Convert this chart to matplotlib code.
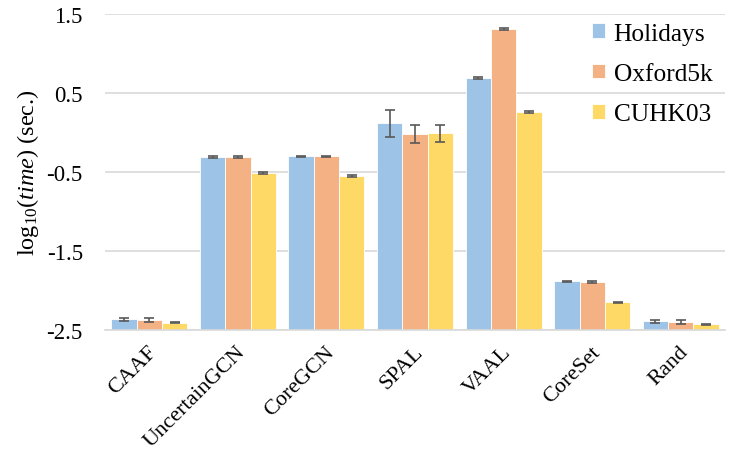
import matplotlib
matplotlib.use("Agg")
import matplotlib.pyplot as plt
from matplotlib import font_manager as fm
from matplotlib.transforms import ScaledTranslation
import numpy as np

_names = {f.name for f in fm.fontManager.ttflist}
_serif = 'Liberation Serif' if 'Liberation Serif' in _names else 'DejaVu Serif'
plt.rcParams['font.family'] = [_serif, 'DejaVu Serif']
plt.rcParams['mathtext.fontset'] = 'custom'
plt.rcParams['mathtext.rm'] = _serif
plt.rcParams['mathtext.it'] = _serif + ':italic'

categories = ["CAAF", "UncertainGCN", "CoreGCN", "SPAL", "VAAL", "CoreSet", "Rand"]
series = ["Holidays", "Oxford5k", "CUHK03"]
holidays = [-2.365, -0.31, -0.30, 0.12, 0.694, -1.88, -2.39]
oxford = [-2.377, -0.31, -0.30, -0.02, 1.31, -1.89, -2.40]
cuhk = [-2.41, -0.517, -0.55, -0.01, 0.264, -2.146, -2.425]
holidays_err = [0.023, 0.008, 0.008, 0.17, 0.01, 0.006, 0.02]
oxford_err = [0.026, 0.008, 0.008, 0.115, 0.01, 0.01, 0.022]
cuhk_err = [0.006, 0.012, 0.015, 0.11, 0.012, 0.006, 0.006]
yticks = [-2.5, -1.5, -0.5, 0.5, 1.5]
colors = ["#9DC3E6", "#F4B183", "#FFD966"]

fig = plt.figure(figsize=(7.48, 4.56), dpi=100)
ax = fig.add_axes([0.1404, 0.274, 0.829, 0.693])

x = np.arange(len(categories))
w = 0.286
base = -2.5
for i, (vals, errs) in enumerate([(holidays, holidays_err), (oxford, oxford_err), (cuhk, cuhk_err)]):
    vals = np.array(vals)
    ax.bar(x + (i - 1) * w, vals - base, w, bottom=base, color=colors[i],
           edgecolor='white', linewidth=0.6, label=series[i], zorder=2)
    ax.errorbar(x + (i - 1) * w, vals, yerr=errs, fmt='none', ecolor='#595959',
                elinewidth=1.2, capsize=3.5, capthick=1.2, zorder=3)

ax.set_ylim(-2.5, 1.5)
ax.set_xlim(-0.5, len(categories) - 0.5)
ax.set_yticks(yticks)
ax.set_yticklabels([str(t) for t in yticks], fontsize=16.5)
ax.set_xticks(x)
ax.set_xticklabels([])
lbl_trans = ax.get_xaxis_transform() + ScaledTranslation(0.05, -0.19, fig.dpi_scale_trans)
for xi, cat in zip(x, categories):
    ax.text(xi, 0, cat, transform=lbl_trans, rotation=45, ha='right', va='center',
            rotation_mode='anchor', fontsize=16, clip_on=False)
ax.tick_params(axis='y', length=0, pad=16)
ax.tick_params(axis='x', length=0)
ax.grid(axis='y', color='#d9d9d9', linewidth=1.2, zorder=0)
ax.set_axisbelow(True)
for s in ['left', 'right', 'top']:
    ax.spines[s].set_visible(False)
ax.spines['bottom'].set_color('#d9d9d9')
ax.spines['bottom'].set_linewidth(1.2)
ax.set_ylabel(r'log$_{10}$($\mathit{time}$) (sec.)', fontsize=17.5, labelpad=4)

leg = ax.legend(loc='upper right', bbox_to_anchor=(1.016, 1.045), frameon=False, fontsize=18.3,
                handlelength=0.5, handleheight=0.5, handletextpad=0.35, labelspacing=0.72)

fig.savefig("out.png", dpi=100)
